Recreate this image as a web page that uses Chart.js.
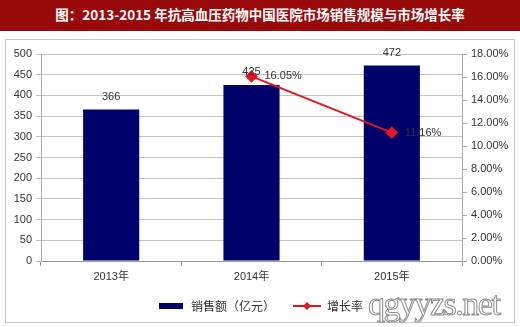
<!DOCTYPE html>
<html>
<head>
<meta charset="utf-8">
<script src="https://cdn.jsdelivr.net/npm/chart.js@4"></script>
<style>
  body { margin: 0; width: 520px; height: 327px; background: #fff; position: relative; overflow: hidden; }
  .title-bar {
    position: absolute; left: 0; top: 0; width: 520px; height: 31px;
    background: #990a0a; color: #fff; text-align: center;
    font: bold 13.5px "Noto Sans CJK SC", "Liberation Sans", sans-serif; line-height: 29px;
  }
  .chart-box {
    position: absolute; left: 5px; top: 39px; width: 508px; height: 282px;
    border: 1px solid #c8c8c8; background: #fff;
  }
  .watermark {
    position: absolute; left: 368px; top: 285px;
    font: 34px "Liberation Serif", serif; color: #fff; letter-spacing: -1.5px;
    -webkit-text-stroke: 1px #8a8a8a;
  }
</style>
</head>
<body>
<div class="title-bar">图：2013-2015 年抗高血压药物中国医院市场销售规模与市场增长率</div>
<div class="chart-box"><canvas id="salesChart" width="508" height="282"></canvas></div>
<div class="watermark">qgyyzs.net</div>
<script>
const years = ['2013年', '2014年', '2015年'];
const salesValues = [366, 425, 472];
const growthRates = [null, 16.05, 11.16];
const salesTicks = [0, 50, 100, 150, 200, 250, 300, 350, 400, 450, 500];
const rateTicks = [0, 2, 4, 6, 8, 10, 12, 14, 16, 18];

const barColor = '#00006b';
const lineColor = '#e8141c';
const tickFont = { family: '"Liberation Sans", "Noto Sans CJK SC", sans-serif', size: 11 };

// legend swatches
function makeSwatch(kind) {
    const c = document.createElement('canvas');
    c.width = 28; c.height = 10;
    const g = c.getContext('2d');
    if (kind === 'bar') {
        g.fillStyle = barColor;
        g.fillRect(2, 2, 24, 6);
    } else {
        g.strokeStyle = lineColor;
        g.lineWidth = 2;
        g.beginPath(); g.moveTo(0, 5); g.lineTo(28, 5); g.stroke();
        g.fillStyle = lineColor;
        g.beginPath(); g.moveTo(14, 1); g.lineTo(18, 5); g.lineTo(14, 9); g.lineTo(10, 5); g.closePath(); g.fill();
    }
    return c;
}

const labelPlugin = {
    id: 'valueLabels',
    afterDatasetsDraw(chart) {
        const ctx = chart.ctx;
        ctx.save();
        ctx.font = '11px "Liberation Sans", sans-serif';
        ctx.fillStyle = '#333';
        ctx.textBaseline = 'middle';
        const barMeta = chart.getDatasetMeta(0);
        ctx.textAlign = 'center';
        barMeta.data.forEach((bar, i) => {
            ctx.fillText(String(salesValues[i]), bar.x, bar.y - 13);
        });
        const lineMeta = chart.getDatasetMeta(1);
        ctx.textAlign = 'left';
        lineMeta.data.forEach((pt, i) => {
            if (growthRates[i] == null) return;
            ctx.fillText(growthRates[i].toFixed(2) + '%', pt.x + 13, pt.y);
        });
        ctx.restore();
    }
};

new Chart(document.getElementById('salesChart'), {
    type: 'bar',
    data: {
        labels: years,
        datasets: [
            {
                label: '销售额（亿元）',
                data: salesValues,
                backgroundColor: barColor,
                yAxisID: 'y',
                barPercentage: 0.4,
                categoryPercentage: 1,
                order: 2
            },
            {
                type: 'line',
                label: '增长率',
                data: growthRates,
                borderColor: lineColor,
                backgroundColor: lineColor,
                borderWidth: 2,
                pointStyle: 'rectRot',
                pointRadius: 5,
                yAxisID: 'y1',
                order: 1
            }
        ]
    },
    options: {
        responsive: false,
        animation: false,
        layout: { padding: { top: 14, bottom: 0, left: 0, right: 0 } },
        plugins: {
            legend: {
                position: 'bottom',
                labels: {
                    usePointStyle: true,
                    pointStyleWidth: 28,
                    color: '#333',
                    font: { family: '"Noto Sans CJK SC", sans-serif', size: 12 },
                    padding: 18,
                    generateLabels(chart) {
                        return chart.data.datasets.map((ds, i) => ({
                            text: ds.label,
                            pointStyle: makeSwatch(i === 0 ? 'bar' : 'line'),
                            fontColor: '#333',
                            datasetIndex: i,
                            hidden: false,
                            lineWidth: 0
                        }));
                    }
                }
            },
            tooltip: { enabled: false }
        },
        scales: {
            x: {
                grid: { display: true, offset: true, drawOnChartArea: false, drawTicks: true, tickLength: 5, color: '#999' },
                border: { color: '#999' },
                ticks: { color: '#333', font: tickFont, padding: 4 },
                afterFit(s) { s.height = 21; }
            },
            y: {
                position: 'left',
                min: 0, max: 500,
                afterBuildTicks(s) { s.ticks = salesTicks.map(v => ({ value: v })); },
                grid: { color: '#c4c4c4', tickLength: 5 },
                border: { color: '#aaa' },
                ticks: { color: '#333', font: tickFont, padding: 4 },
                afterFit(s) { s.width = 35; }
            },
            y1: {
                position: 'right',
                min: 0, max: 18,
                afterBuildTicks(s) { s.ticks = rateTicks.map(v => ({ value: v })); },
                grid: { drawOnChartArea: false, tickLength: 5, color: '#aaa' },
                border: { color: '#aaa' },
                ticks: { color: '#333', font: tickFont, padding: 4, callback: v => v.toFixed(2) + '%' },
                afterFit(s) { s.width = 52; }
            }
        }
    },
    plugins: [labelPlugin]
});
</script>
</body>
</html>
